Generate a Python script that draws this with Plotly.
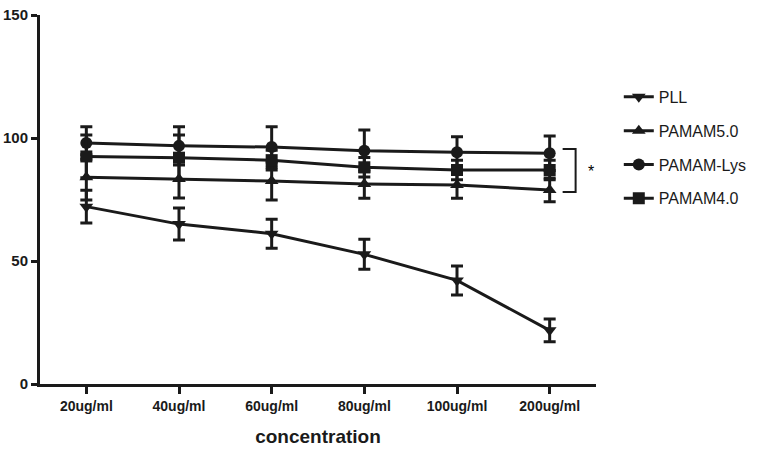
import plotly.graph_objects as go

categories = ["20ug/ml", "40ug/ml", "60ug/ml", "80ug/ml", "100ug/ml", "200ug/ml"]

pll = [72.1, 65.0, 61.1, 52.7, 42.1, 21.8]
pll_err = [6.7, 6.5, 5.9, 6.1, 5.9, 4.6]

pamam50 = [84.0, 83.3, 82.5, 81.3, 80.9, 78.9]
pamam50_err = [9.2, 7.7, 7.7, 5.8, 5.4, 4.8]

pamam_lys = [98.0, 96.8, 96.3, 94.8, 94.2, 93.8]
pamam_lys_err = [6.6, 7.8, 8.3, 8.5, 6.3, 7.0]

pamam40 = [92.5, 92.0, 91.0, 88.1, 87.0, 87.0]
pamam40_err = [8.7, 9.2, 4.0, 4.0, 4.0, 4.0]

series = [
    ("PLL", pll, pll_err, "triangle-down"),
    ("PAMAM5.0", pamam50, pamam50_err, "triangle-up"),
    ("PAMAM-Lys", pamam_lys, pamam_lys_err, "circle"),
    ("PAMAM4.0", pamam40, pamam40_err, "square"),
]

FONT = "Arial, Liberation Sans, sans-serif"
fig = go.Figure()
for name, vals, errs, sym in series:
    fig.add_trace(go.Scatter(
        x=categories, y=vals, name=name, mode="lines+markers",
        legendgroup=name,
        line=dict(color="#1a1a1a", width=3),
        marker=dict(symbol=sym, size=12, color="#1a1a1a"),
        error_y=dict(type="data", array=errs, visible=True,
                     color="#1a1a1a", thickness=3, width=6),
    ))

# significance bracket and star
fig.add_shape(type="path", xref="x", yref="y",
              path="M 5.14,95.5 L 5.28,95.5 L 5.28,78 L 5.14,78",
              line=dict(color="#1a1a1a", width=2))
fig.add_annotation(x=5.45, y=86.5, xref="x", yref="y", text="*", showarrow=False,
                   font=dict(family=FONT, size=16, color="#000000"))

fig.update_layout(
    width=780, height=451,
    margin=dict(l=40, r=184, t=15, b=67),
    paper_bgcolor="white", plot_bgcolor="white",
    font=dict(family=FONT, color="#1a1a1a"),
    showlegend=True,
    legend=dict(x=1.041, y=0.824, xanchor="left", yanchor="top",
                font=dict(size=16, family=FONT, color="#1a1a1a"),
                tracegroupgap=10, bgcolor="rgba(0,0,0,0)", borderwidth=0),
)
fig.update_xaxes(
    type="category", range=[-0.5, 5.5], automargin=False,
    showline=True, linecolor="#1a1a1a", linewidth=3,
    ticks="outside", ticklen=7, tickwidth=2.5, tickcolor="#1a1a1a",
    showgrid=False, zeroline=False,
    tickfont=dict(family=FONT, size=14, color="#1a1a1a", weight="bold"),
    title=dict(text="<b>concentration</b>", font=dict(family=FONT, size=19, color="#1a1a1a"),
               standoff=17),
)
fig.update_yaxes(
    range=[0, 150], tickvals=[0, 50, 100, 150], automargin=False,
    showline=True, linecolor="#1a1a1a", linewidth=3,
    ticks="outside", ticklen=6, tickwidth=2.5, tickcolor="#1a1a1a",
    showgrid=False, zeroline=False, ticklabelstandoff=0,
    tickfont=dict(family=FONT, size=15, color="#1a1a1a", weight="bold"),
)

fig.write_html("out.html", config={"displayModeBar": False},
               post_script="document.body.style.margin='0';")
